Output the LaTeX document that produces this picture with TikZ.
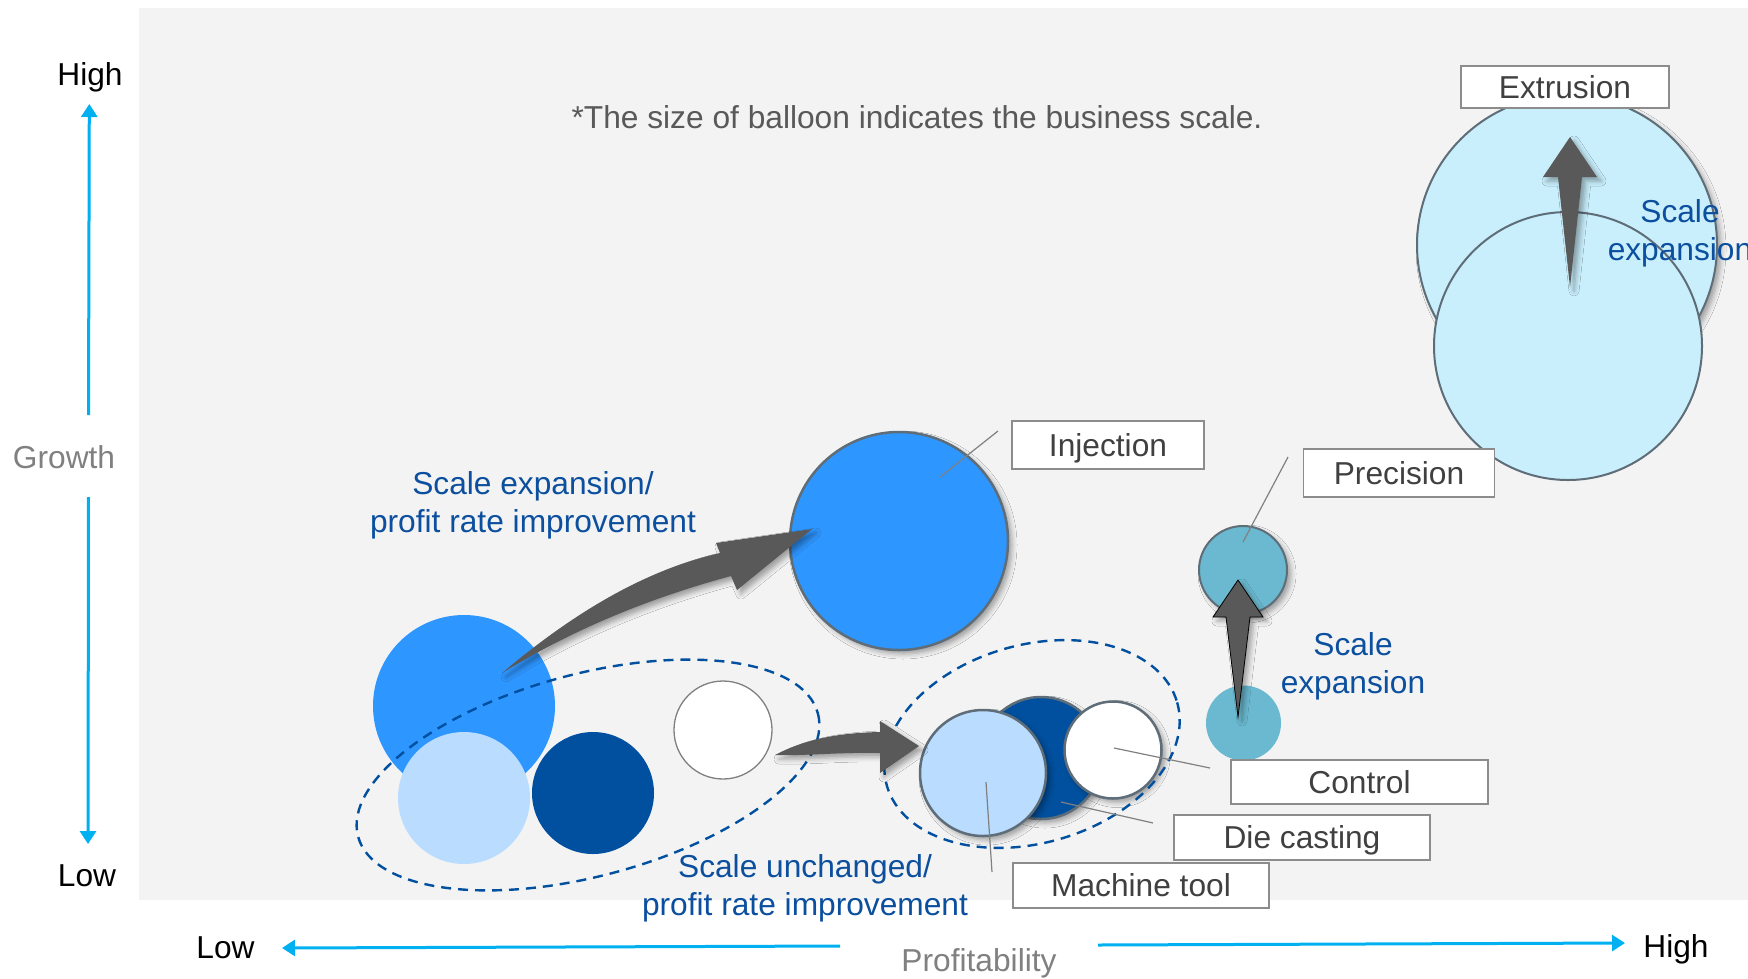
\documentclass[tikz,border=0pt]{standalone}
\usepackage{fontspec}
\setmainfont{Liberation Sans}
\usetikzlibrary{arrows.meta,shadows.blur}
\definecolor{panel}{HTML}{F3F3F3}
\definecolor{bigblue}{HTML}{2E96FF}
\definecolor{lightblue}{HTML}{B9DCFF}
\definecolor{darkblue}{HTML}{00509F}
\definecolor{tealc}{HTML}{6BB9D0}
\definecolor{extr}{HTML}{C9EFFC}
\definecolor{ring}{HTML}{5E6D78}
\definecolor{arrowgray}{HTML}{595959}
\definecolor{axiscyan}{HTML}{00B0F0}
\definecolor{txtblue}{HTML}{0B4F9E}
\definecolor{boxgray}{HTML}{8C8C8C}
\definecolor{labeltext}{HTML}{404040}
\definecolor{axislabel}{HTML}{808080}
\definecolor{notegray}{HTML}{595959}
\begin{document}
\begin{tikzpicture}[x=1pt,y=-1pt,
  every node/.style={font=\fontsize{31.7}{38}\selectfont, inner sep=0pt},
  bubble/.style={circle, inner sep=0pt, minimum size=#1},
  ringed/.style={draw=ring, line width=2.5pt},
  softshadow/.style={blur shadow={shadow xshift=4pt, shadow yshift=-4pt, shadow blur radius=5pt, shadow opacity=35}},
  dashring/.style={draw=darkblue, line width=2.4pt, dash pattern=on 10pt off 7pt},
  bigarrow/.style={fill=arrowgray, softshadow},
  axisarrow/.style={draw=axiscyan, line width=3pt, -{Triangle[width=16pt,length=13pt]}},
  labelbox/.style={draw=boxgray, line width=1.5pt, fill=white, text=labeltext,
    text height=22.7pt, text depth=0pt},
  leader/.style={draw=gray, line width=1.2pt},
  bluetxt/.style={text=txtblue, anchor=base},
  axtxt/.style={anchor=base}]

\useasboundingbox (0,0) rectangle (1748,978);
\clip (0,0) rectangle (1748,978);

% chart panel
\fill[panel] (139,8) rectangle (1748,900);

% left group of balloons
\node[bubble=182pt, fill=bigblue] (bigL) at (464,706) {};
\node[bubble=132pt, fill=lightblue] (lightL) at (464,798) {};
\node[bubble=122pt, fill=darkblue] (darkL) at (593,793) {};
\node[bubble=98pt, fill=white, draw=gray, line width=1.3pt] (whiteL) at (723,730) {};
\draw[dashring, rotate around={15:(588,775)}] (588,775) ellipse [x radius=238, y radius=101];

% injection balloon
\node[bubble=218pt, fill=bigblue, ringed, softshadow] (inj) at (899,541) {};

% growth arrow towards injection
\fill[bigarrow] (502,673) .. controls (585,603) and (655,568) .. (720,553)
  -- (716,543) -- (812,529) -- (737,590) -- (731,576)
  .. controls (665,594) and (585,622) .. (502,673) -- cycle;

% right group of balloons
\node[bubble=122pt, fill=darkblue, ringed, softshadow] (die) at (1041,758) {};
\node[bubble=126pt, fill=lightblue, ringed, softshadow] (mach) at (983,773) {};
\node[bubble=97pt, fill=white, ringed, softshadow] (ctrl) at (1113,750) {};
\draw[dashring, rotate around={16:(1032,744)}] (1032,744) ellipse [x radius=151, y radius=99];

% shift arrow between groups
\fill[bigarrow] (775,755) .. controls (800,742) and (830,733) .. (880,732)
  -- (880,721) -- (919,746) -- (880,773) -- (880,753)
  .. controls (840,752) and (805,756) .. (775,755) -- cycle;

% precision balloons
\node[bubble=75pt, fill=tealc] (tealB) at (1243.5,723) {};
\node[bubble=88pt, fill=tealc, draw=ring, line width=2pt, softshadow] (prec) at (1243,570) {};
\filldraw[fill=arrowgray, draw=black, line width=0.8pt, softshadow]
  (1238,717) -- (1250,617) -- (1263,617) -- (1238,580) -- (1213,617) -- (1226,617) -- cycle;

% extrusion balloons
\node[bubble=300pt, fill=extr, draw=ring, line width=2pt, softshadow] (extTop) at (1567,245) {};
\node[bubble=268pt, fill=extr, draw=ring, line width=2pt] (extBot) at (1568,346) {};
\fill[bigarrow] (1570,287) -- (1582,177) -- (1597,177) -- (1570,137) -- (1543,177) -- (1558,177) -- cycle;

% leader lines
\coordinate (injA) at (998,431);   \coordinate (injB) at (940,477);
\coordinate (precA) at (1288,457); \coordinate (precB) at (1243,542);
\coordinate (ctrlA) at (1210,768); \coordinate (ctrlB) at (1114,748);
\coordinate (dieA) at (1153,823);  \coordinate (dieB) at (1061,802);
\coordinate (machA) at (992,872);  \coordinate (machB) at (986,782);
\draw[leader] (injA) -- (injB);
\draw[leader] (precA) -- (precB);
\draw[leader] (ctrlA) -- (ctrlB);
\draw[leader] (dieA) -- (dieB);
\draw[leader] (machA) -- (machB);

% labels
\node[labelbox, minimum width=208pt, minimum height=42pt] (lExt) at (1565,87) {Extrusion};
\node[labelbox, minimum width=192pt, minimum height=48pt] (lInj) at (1108,445) {Injection};
\node[labelbox, minimum width=191pt, minimum height=48pt] (lPrec) at (1399,473) {Precision};
\node[labelbox, minimum width=257pt, minimum height=44pt] (lCtrl) at (1359.5,782) {Control};
\node[labelbox, minimum width=256pt, minimum height=45pt] (lDie) at (1302,837.5) {Die casting};
\node[labelbox, minimum width=256pt, minimum height=45pt] (lMach) at (1141,885.5) {Machine tool};

% annotations
\node[anchor=base, text=notegray] (note) at (917,128) {*The size of balloon indicates the business scale.};
\node[bluetxt] (t1a) at (533,494) {Scale expansion/};
\node[bluetxt] (t1b) at (533,532) {profit rate improvement};
\node[bluetxt] (t2a) at (805,877) {Scale unchanged/};
\node[bluetxt] (t2b) at (805,915) {profit rate improvement};
\node[bluetxt] (t3a) at (1353,655) {Scale};
\node[bluetxt] (t3b) at (1353,693) {expansion};
\node[bluetxt] (t4a) at (1680,222) {Scale};
\node[bluetxt] (t4b) at (1680,260) {expansion};

% growth axis
\coordinate (yUpS) at (88.5,415); \coordinate (yUpE) at (89.3,104);
\coordinate (yDnS) at (88.5,497); \coordinate (yDnE) at (88,844);
\draw[axisarrow] (yUpS) -- (yUpE);
\draw[axisarrow] (yDnS) -- (yDnE);
\node[axtxt] (yHigh) at (90,85) {High};
\node[axtxt, text=axislabel] (yName) at (64,468) {Growth};
\node[axtxt] (yLow) at (87,886) {Low};

% profitability axis
\coordinate (xLS) at (840,946); \coordinate (xLE) at (282,948);
\coordinate (xRS) at (1098,945); \coordinate (xRE) at (1625,943);
\draw[axisarrow] (xLS) -- (xLE);
\draw[axisarrow] (xRS) -- (xRE);
\node[axtxt] (xLow) at (225.5,958) {Low};
\node[axtxt, text=axislabel] (xName) at (979,971) {Profitability};
\node[axtxt] (xHigh) at (1676,957) {High};
\end{tikzpicture}
\end{document}
